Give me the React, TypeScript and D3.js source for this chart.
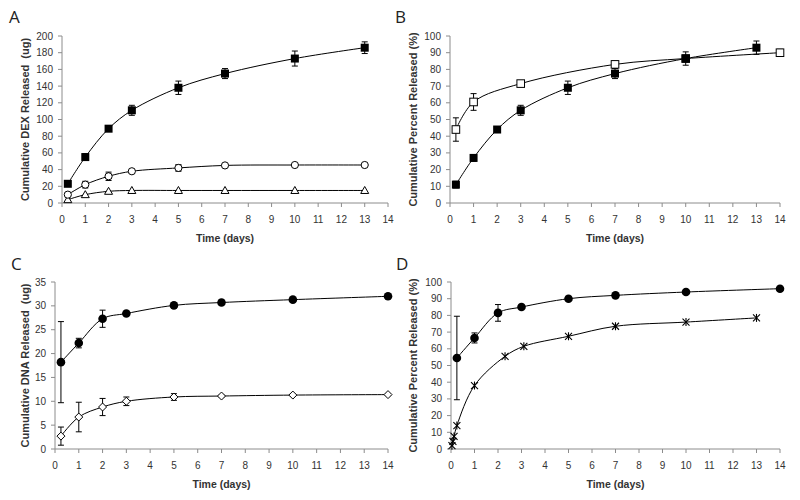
import React from "react";
import * as d3 from "d3";

// ---------- Data ----------
const tA = [0.25, 1, 2, 3, 5, 7, 10, 13];
const aSquare = [23, 55, 89, 111, 138, 155, 173, 186];
const aSquareErr = [3, 4, 2, 6, 8, 6, 9, 7];
const aCircle = [10, 22, 32, 38, 42, 45, 45.5, 45.5];
const aCircleErr = [2, 4, 5, 2, 4, 1, 1, 1];
const aTriangle = [4, 10, 14, 15, 15, 15, 15, 15];

const tBFilled = [0.25, 1, 2, 3, 5, 7, 10, 13];
const bFilled = [11, 27, 44, 55.5, 69, 77.5, 86.5, 93];
const bFilledErr = [2, 2, 1, 3, 4, 3, 4, 4];
const tBOpen = [0.25, 1, 3, 7, 10, 14];
const bOpen = [44, 60.5, 71.5, 83, 86.5, 90];
const bOpenErr = [7, 5, 1, 2, 2, 2];

const tC = [0.25, 1, 2, 3, 5, 7, 10, 14];
const cCircle = [18.2, 22.2, 27.3, 28.4, 30.1, 30.7, 31.3, 32];
const cCircleErr = [8.5, 1, 1.8, 0.3, 0.5, 0.2, 0.2, 0.2];
const cDiamond = [2.7, 6.7, 8.8, 10, 10.9, 11.1, 11.3, 11.4];
const cDiamondErr = [1.9, 3.1, 1.8, 0.9, 0.7, 0.2, 0.2, 0.2];

const tDCircle = [0.25, 1, 2, 3, 5, 7, 10, 14];
const dCircle = [54.5, 66.5, 81.5, 85, 90, 92, 94, 96];
const dCircleErr = [25, 3, 5, 1, 1, 1, 1, 1];
const tDStar = [0.04, 0.08, 0.13, 0.25, 1, 2.3, 3.1, 5, 7, 10, 13];
const dStar = [2, 4.5, 7.5, 14, 38, 55.5, 61.5, 67.5, 73.5, 76, 78.5];

const xTicks = d3.range(0, 15);
const yTicksA = d3.range(0, 201, 20);
const yTicksB = d3.range(0, 101, 10);
const yTicksC = d3.range(0, 36, 5);
const yTicksD = d3.range(0, 101, 10);

// ---------- Types ----------
type Series = {
  t: number[];
  v: number[];
  err?: number[];
  marker: "sq" | "osq" | "ocirc" | "circ" | "tri" | "dia" | "star";
};

type PanelProps = {
  letter: string;
  letterX: number;
  letterY: number;
  x0: number;
  x1: number;
  y0: number;
  y1: number;
  yMax: number;
  yTicks: number[];
  yTitle: string;
  yTitleX: number;
  series: Series[];
};

const line = (xs: d3.ScaleLinear<number, number>, ys: d3.ScaleLinear<number, number>) =>
  d3
    .line<[number, number]>()
    .x((d) => xs(d[0]))
    .y((d) => ys(d[1]))
    .curve(d3.curveCatmullRom.alpha(0.5));

function Marker({ m, x, y }: { m: Series["marker"]; x: number; y: number }) {
  switch (m) {
    case "sq":
      return <rect x={x - 4} y={y - 4} width={8} height={8} fill="#000" />;
    case "osq":
      return <rect x={x - 3.8} y={y - 3.8} width={7.6} height={7.6} fill="#fff" stroke="#000" strokeWidth={1} />;
    case "circ":
      return <circle cx={x} cy={y} r={4.3} fill="#000" />;
    case "ocirc":
      return <circle cx={x} cy={y} r={3.6} fill="#fff" stroke="#000" strokeWidth={1} />;
    case "tri":
      return (
        <path
          d={`M${x},${y - 4} L${x + 4},${y + 3} L${x - 4},${y + 3} Z`}
          fill="#fff"
          stroke="#000"
          strokeWidth={1}
        />
      );
    case "dia":
      return (
        <path
          d={`M${x},${y - 4} L${x + 4},${y} L${x},${y + 4} L${x - 4},${y} Z`}
          fill="#fff"
          stroke="#000"
          strokeWidth={1}
        />
      );
    case "star":
      return (
        <g stroke="#000" strokeWidth={1.1}>
          <line x1={x - 3.5} y1={y - 3.5} x2={x + 3.5} y2={y + 3.5} />
          <line x1={x - 3.5} y1={y + 3.5} x2={x + 3.5} y2={y - 3.5} />
          <line x1={x} y1={y - 4} x2={x} y2={y + 4} />
        </g>
      );
  }
  return null;
}

function Panel(p: PanelProps) {
  const xs = d3.scaleLinear().domain([0, 14]).range([p.x0, p.x1]);
  const ys = d3.scaleLinear().domain([0, p.yMax]).range([p.y0, p.y1]);
  const axisColor = "#8c8c8c";
  const textColor = "#333";
  const font = "'Liberation Sans', Arial, sans-serif";
  return (
    <g>
      <text x={p.letterX} y={p.letterY} fontFamily="'Open Sans', 'Noto Sans', sans-serif" fontSize={17} fill="#222">
        {p.letter}
      </text>
      {/* y axis */}
      <line x1={p.x0} x2={p.x0} y1={p.y0} y2={p.y1} stroke={axisColor} />
      {p.yTicks.map((v) => (
        <g key={"y" + v}>
          <line x1={p.x0 - 4} x2={p.x0} y1={ys(v)} y2={ys(v)} stroke={axisColor} />
          <text
            x={p.x0 - 9}
            y={ys(v)}
            dy="0.35em"
            textAnchor="end"
            fontFamily={font}
            fontSize={10}
            fill={textColor}
          >
            {v}
          </text>
        </g>
      ))}
      {/* x axis */}
      <line x1={p.x0} x2={p.x1} y1={p.y0} y2={p.y0} stroke={axisColor} />
      {xTicks.map((v) => (
        <g key={"x" + v}>
          <line x1={xs(v)} x2={xs(v)} y1={p.y0} y2={p.y0 + 4} stroke={axisColor} />
          <text
            x={xs(v)}
            y={p.y0 + 16}
            dy="0.35em"
            textAnchor="middle"
            fontFamily={font}
            fontSize={10}
            fill={textColor}
          >
            {v}
          </text>
        </g>
      ))}
      <text
        x={(p.x0 + p.x1) / 2}
        y={p.y0 + 35}
        dy="0.35em"
        textAnchor="middle"
        fontFamily={font}
        fontSize={10.5}
        fontWeight="bold"
        fill={textColor}
      >
        Time (days)
      </text>
      <text
        transform={`translate(${p.yTitleX},${(p.y0 + p.y1) / 2}) rotate(-90)`}
        dy="0.35em"
        textAnchor="middle"
        fontFamily={font}
        fontSize={11}
        fontWeight="bold"
        fill={textColor}
        style={{ whiteSpace: "pre" }}
      >
        {p.yTitle}
      </text>
      {/* series */}
      {p.series.map((s, si) => {
        const pts: [number, number][] = s.t.map((t, i) => [t, s.v[i]]);
        return (
          <g key={"s" + si}>
            <path d={line(xs, ys)(pts) || ""} fill="none" stroke="#000" strokeWidth={1} />
            {s.err &&
              s.t.map((t, i) => {
                const e = s.err![i];
                if (!e || e < 0.4 * (p.yMax / 100)) return null;
                const x = xs(t);
                const yt = ys(s.v[i] + e);
                const yb = ys(s.v[i] - e);
                return (
                  <g key={"e" + i} stroke="#000" strokeWidth={1}>
                    <line x1={x} x2={x} y1={yt} y2={yb} />
                    <line x1={x - 3} x2={x + 3} y1={yt} y2={yt} />
                    <line x1={x - 3} x2={x + 3} y1={yb} y2={yb} />
                  </g>
                );
              })}
            {s.t.map((t, i) => (
              <Marker key={"m" + i} m={s.marker} x={xs(t)} y={ys(s.v[i])} />
            ))}
          </g>
        );
      })}
    </g>
  );
}

export default function App() {
  return (
    <svg width={800} height={500} style={{ display: "block", position: "absolute", left: 0, top: 0 }}>
      <rect width={800} height={500} fill="#fff" />
      <Panel
        letter="A"
        letterX={9}
        letterY={23}
        x0={62}
        x1={388}
        y0={203}
        y1={36}
        yMax={200}
        yTicks={yTicksA}
        yTitle="Cumulative DEX Released  (ug)"
        yTitleX={25}
        series={[
          { t: tA, v: aTriangle, marker: "tri" },
          { t: tA, v: aCircle, err: aCircleErr, marker: "ocirc" },
          { t: tA, v: aSquare, err: aSquareErr, marker: "sq" },
        ]}
      />
      <Panel
        letter="B"
        letterX={395}
        letterY={23}
        x0={450}
        x1={780}
        y0={203}
        y1={36}
        yMax={100}
        yTicks={yTicksB}
        yTitle="Cumulative Percent Released (%)"
        yTitleX={413}
        series={[
          { t: tBOpen, v: bOpen, err: bOpenErr, marker: "osq" },
          { t: tBFilled, v: bFilled, err: bFilledErr, marker: "sq" },
        ]}
      />
      <Panel
        letter="C"
        letterX={11}
        letterY={270}
        x0={55}
        x1={388}
        y0={449}
        y1={282}
        yMax={35}
        yTicks={yTicksC}
        yTitle="Cumulative DNA Released  (ug)"
        yTitleX={25}
        series={[
          { t: tC, v: cDiamond, err: cDiamondErr, marker: "dia" },
          { t: tC, v: cCircle, err: cCircleErr, marker: "circ" },
        ]}
      />
      <Panel
        letter="D"
        letterX={396}
        letterY={270}
        x0={451}
        x1={780}
        y0={449}
        y1={282}
        yMax={100}
        yTicks={yTicksD}
        yTitle="Cumulative Percent Released (%)"
        yTitleX={413}
        series={[
          { t: tDStar, v: dStar, marker: "star" },
          { t: tDCircle, v: dCircle, err: dCircleErr, marker: "circ" },
        ]}
      />
    </svg>
  );
}
